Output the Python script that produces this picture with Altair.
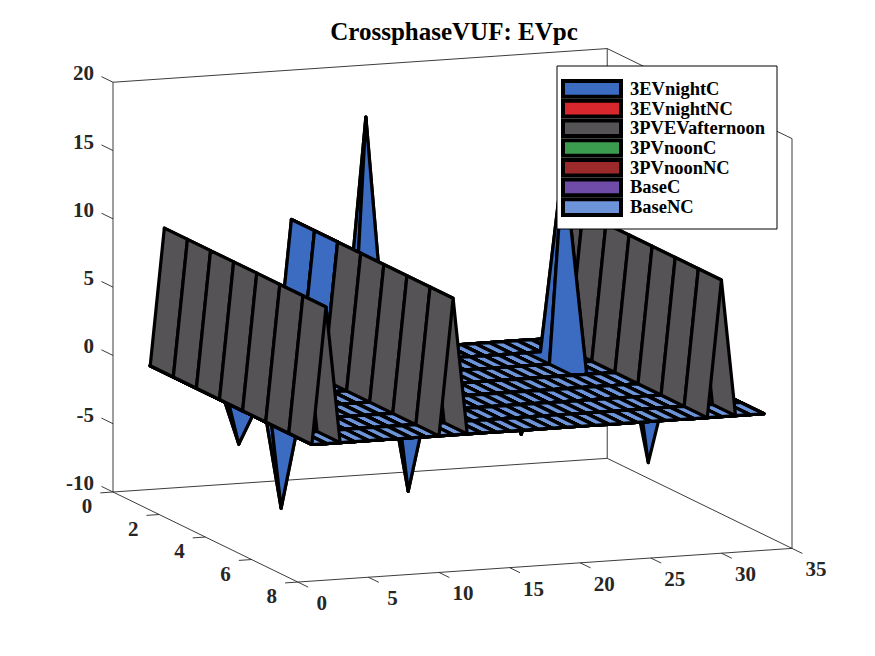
import numpy as np
import pandas as pd
import altair as alt

# ==============================
#   DATA (read off the surfaces)
# ==============================
series = ["3EVnightC", "3EVnightNC", "3PVEVafternoon", "3PVnoonC",
          "3PVnoonNC", "BaseC", "BaseNC"]
colors = ["#3B6CC1", "#D8282D", "#555355", "#3B9B4F", "#9C2A2B", "#6E4CA7", "#6D94D8"]

bus = list(range(1, 34))   # x
case = list(range(1, 9))   # y

# 3EVnightC, only the points that are not zero
evnight_c_bus = [4, 7, 11, 11, 11, 13, 16, 24, 27, 33]
evnight_c_case = [3, 3, 1, 2, 3, 3, 3, 3, 3, 3]
evnight_c_val = [-4.3, -9.2, 10, 10, 10, 19, -8.6, -5, 15, -7.7]

# 3PVEVafternoon, same value for every case
pvev_bus = [2, 11, 30]
pvev_val = [10, 10, 10]

x_ticks = [0, 5, 10, 15, 20, 25, 30, 35]
y_ticks = [0, 2, 4, 6, 8]
z_ticks = [-10, -5, 0, 5, 10, 15, 20]
title = "CrossphaseVUF: EVpc"

# ==============================
#   VIEW (orthographic, like view(az, el))
# ==============================
XLIM, YLIM, ZLIM = (0, 35), (0, 8), (-10, 20)
AZ, EL = np.radians(20.5), np.radians(10.5)
BOX_Z = 0.79                      # box height / box base
W, H = 859, 640
XDOM = [-0.199, 1.429]
YDOM = [-0.2957, 0.9175]
FONT = "Liberation Serif"
AXIS_COLOR = "#262626"


def project(x, y, z):
    u = (np.asarray(x, float) - XLIM[0]) / (XLIM[1] - XLIM[0])
    v = -(np.asarray(y, float) - YLIM[0]) / (YLIM[1] - YLIM[0])  # YDir reverse
    w = BOX_Z * (np.asarray(z, float) - ZLIM[0]) / (ZLIM[1] - ZLIM[0])
    sx = u * np.cos(AZ) - v * np.sin(AZ)
    sy = (u * np.sin(AZ) + v * np.cos(AZ)) * np.sin(EL) + w * np.cos(EL)
    depth = -(u * np.sin(AZ) + v * np.cos(AZ)) * np.cos(EL) + w * np.sin(EL)
    return sx, sy, depth


# surface matrices (case x bus)
Z = {name: np.zeros((len(case), len(bus))) for name in series}
for b, c, val in zip(evnight_c_bus, evnight_c_case, evnight_c_val):
    Z["3EVnightC"][case.index(c), bus.index(b)] = val
for b, val in zip(pvev_bus, pvev_val):
    Z["3PVEVafternoon"][:, bus.index(b)] = val

# painter order on ties: BaseNC last, then 3EVnightC
tie_rank = {name: 0 for name in series}
tie_rank["3EVnightC"] = 1
tie_rank["BaseNC"] = 2

faces = []
for name in series:
    zz = Z[name]
    for i in range(len(case) - 1):
        for j in range(len(bus) - 1):
            ci = [i, i, i + 1, i + 1, i]
            cj = [j, j + 1, j + 1, j, j]
            xs = [bus[k] for k in cj]
            ys = [case[k] for k in ci]
            zs = [zz[a, b] for a, b in zip(ci, cj)]
            sx, sy, d = project(xs, ys, zs)
            faces.append((round(float(d[:4].mean()), 9), tie_rank[name], name, sx, sy))

faces.sort(key=lambda f: (f[0], f[1]))
rows = []
for n, (_, _, name, sx, sy) in enumerate(faces):
    for v in range(5):
        rows.append({"pid": f"{n:05d}", "v": v, "sx": sx[v], "sy": sy[v], "series": name})
df_faces = pd.DataFrame(rows)

# box (back planes) and tick marks
x0, x1 = XLIM
y0, y1 = YLIM
z0, z1 = ZLIM
segs = [((x0, y0, z0), (x0, y0, z1)), ((x0, y0, z1), (x1, y0, z1)),
        ((x1, y0, z1), (x1, y0, z0)), ((x1, y0, z0), (x0, y0, z0)),
        ((x1, y0, z0), (x1, y1, z0)), ((x1, y1, z0), (x1, y1, z1)),
        ((x1, y1, z1), (x1, y0, z1)), ((x0, y0, z0), (x0, y1, z0)),
        ((x0, y1, z0), (x1, y1, z0))]
segs += [((t, y1, z0), (t, y1 + 0.45, z0)) for t in x_ticks]
segs += [((x0, t, z0), (x0 - 0.9, t, z0)) for t in y_ticks]
segs += [((x0, y0, t), (x0, y0 - 0.5, t)) for t in z_ticks]

seg_rows = []
for n, (p, q) in enumerate(segs):
    sx, sy, _ = project([p[0], q[0]], [p[1], q[1]], [p[2], q[2]])
    for v in range(2):
        seg_rows.append({"sid": n, "v": v, "sx": sx[v], "sy": sy[v]})
df_segs = pd.DataFrame(seg_rows)


def tick_df(xs, ys, zs, labels):
    sx, sy, _ = project(xs, ys, zs)
    return pd.DataFrame({"sx": sx, "sy": sy, "label": [str(t) for t in labels]})


df_xlab = tick_df(x_ticks, [y1] * len(x_ticks), [z0] * len(x_ticks), x_ticks)
df_ylab = tick_df([x0] * len(y_ticks), y_ticks, [z0] * len(y_ticks), y_ticks)
df_zlab = tick_df([x0] * len(z_ticks), [y0] * len(z_ticks), z_ticks, z_ticks)

# ==============================
#   CHART
# ==============================
X = alt.X("sx:Q", scale=alt.Scale(domain=XDOM), axis=None)
Y = alt.Y("sy:Q", scale=alt.Scale(domain=YDOM), axis=None)
fill = alt.Fill("series:N", scale=alt.Scale(domain=series, range=colors), legend=None)

box = alt.Chart(df_segs).mark_line(color=AXIS_COLOR, strokeWidth=0.9).encode(
    x=X, y=Y, detail="sid:N", order="v:Q")


def labels(df, align, dx, dy):
    return alt.Chart(df).mark_text(
        font=FONT, fontSize=21, fontWeight="bold", color=AXIS_COLOR,
        align=align, baseline="middle", dx=dx, dy=dy
    ).encode(x=X, y=Y, text="label:N")


surf = alt.Chart(df_faces).mark_line(
    stroke="black", strokeWidth=3.2, strokeJoin="round", strokeCap="round"
).encode(x=X, y=Y, detail="pid:N", order="v:Q", fill=fill)

one = pd.DataFrame({"k": [0]})
legend_box = alt.Chart(one).mark_rect(fill="white", stroke="black", strokeWidth=1).encode(
    x=alt.value(549), x2=alt.value(769), y=alt.value(58), y2=alt.value(221))

df_leg = pd.DataFrame({"series": series})
LY = alt.Y("series:N", scale=alt.Scale(type="point", domain=series, range=[71, 209]), axis=None)
swatch = alt.Chart(df_leg).mark_point(
    shape="M-1,-0.27L1,-0.27L1,0.27L-1,0.27Z", size=3364, filled=True,
    opacity=1, stroke="black", strokeWidth=4
).encode(x=alt.value(584), y=LY, fill=fill)
leg_text = alt.Chart(df_leg).mark_text(
    font=FONT, fontSize=18.5, fontWeight="bold", color="black", align="left", baseline="middle"
).encode(x=alt.value(622), y=LY, text="series:N")

title_mark = alt.Chart(one).mark_text(
    font=FONT, fontSize=25, fontWeight="bold", color="black", align="center", baseline="middle"
).encode(x=alt.value(446), y=alt.value(24), text=alt.value(title))

chart = alt.layer(
    box,
    labels(df_xlab, "center", 24, 22),
    labels(df_ylab, "center", -26, 15),
    labels(df_zlab, "right", -19, -8),
    surf,
    legend_box, swatch, leg_text, title_mark,
).resolve_scale(y="independent").properties(
    width=W, height=H, padding=0, autosize=alt.AutoSizeParams(type="none")
).configure_view(stroke=None)

chart.save("out.html", embed_options={"renderer": "svg", "actions": False})
